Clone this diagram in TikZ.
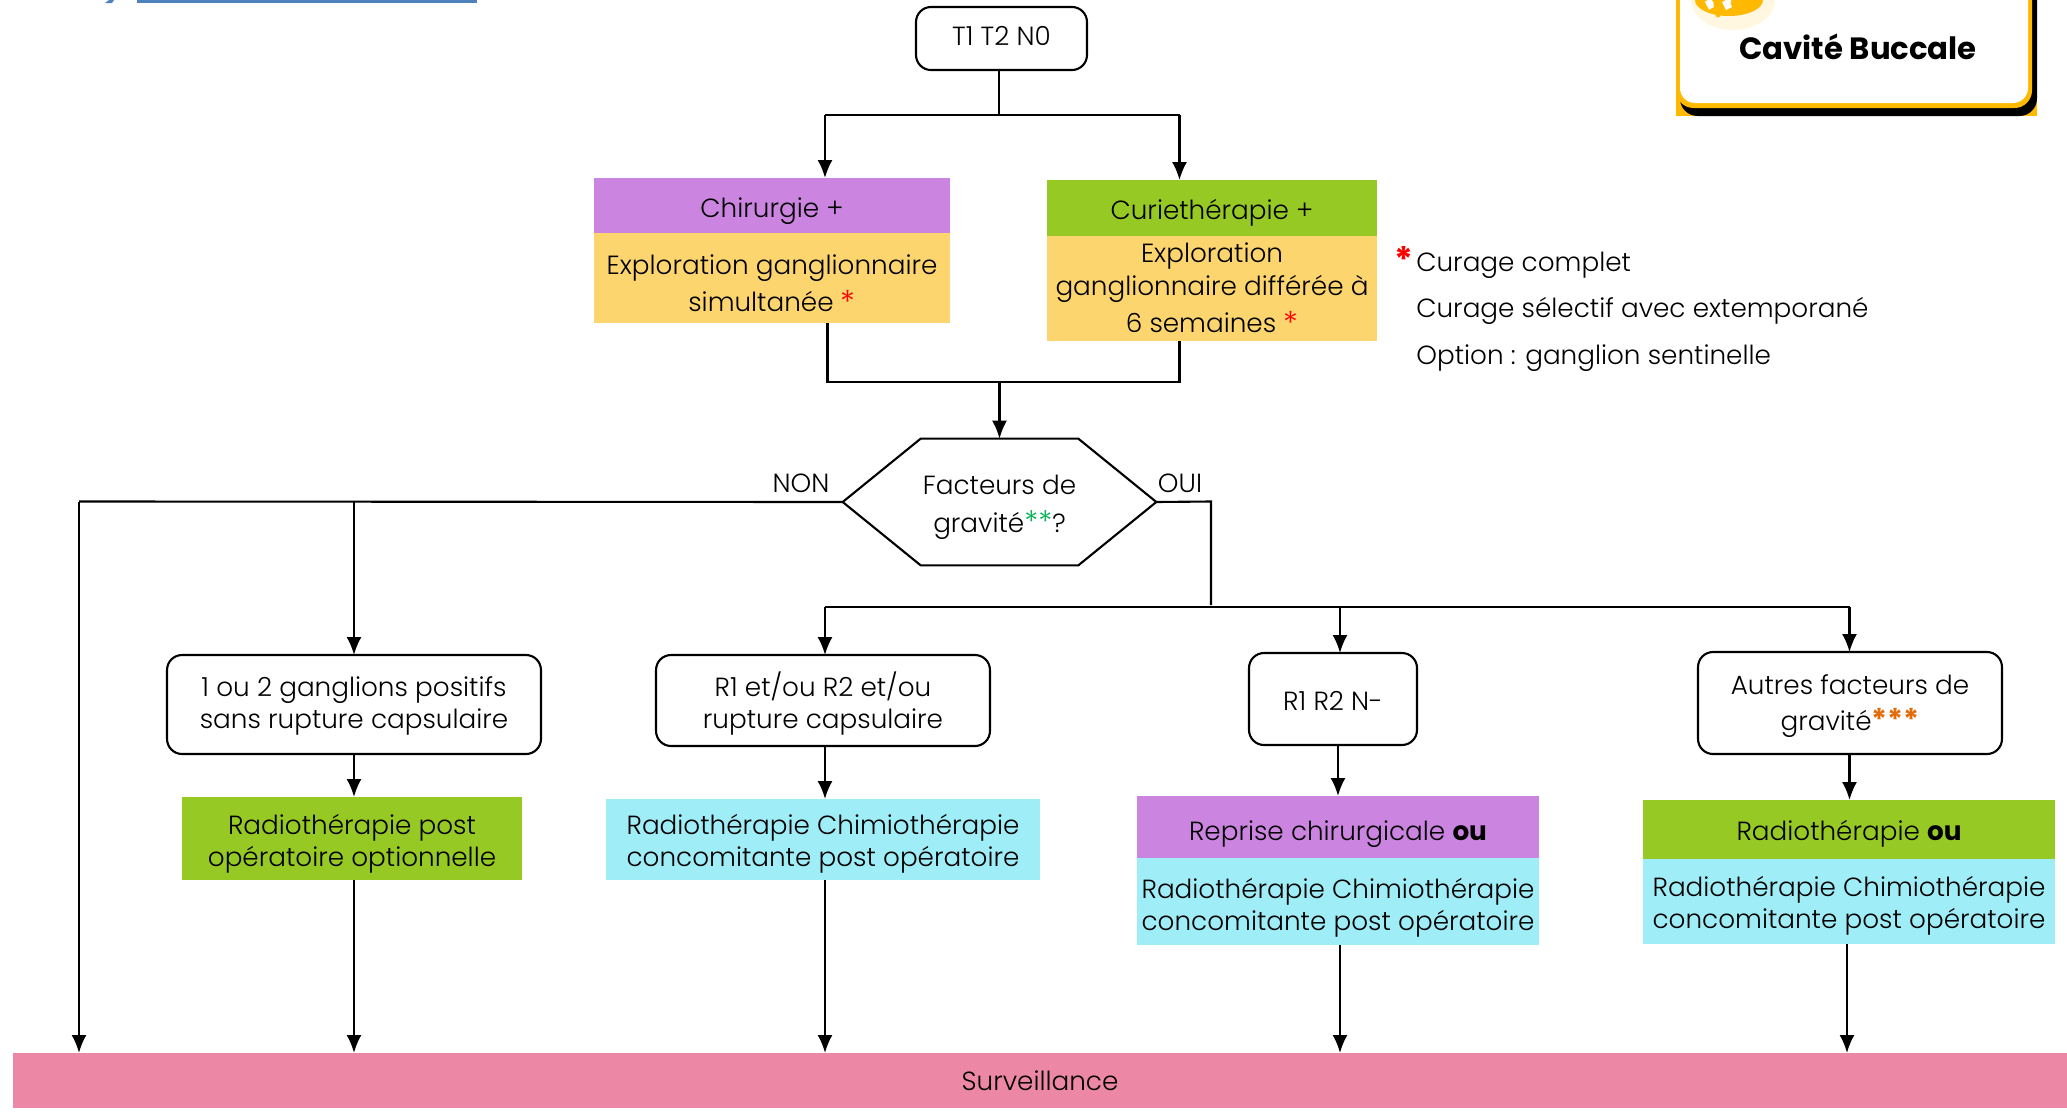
\documentclass[tikz,border=0pt]{standalone}
\usepackage{fontspec}
\setmainfont{Poppins}[UprightFont = * Light, BoldFont = * Bold]
\usetikzlibrary{positioning}
\usetikzlibrary{arrows.meta}

\definecolor{chirpurple}{HTML}{CB84E0}
\definecolor{curigreen}{HTML}{97C924}
\definecolor{exployellow}{HTML}{FCD56E}
\definecolor{radiocyan}{HTML}{9FEDF7}
\definecolor{survpink}{HTML}{EC87A5}
\definecolor{badgegold}{HTML}{FFB900}
\definecolor{titleblue}{HTML}{4F81BD}
\definecolor{stargreen}{HTML}{00B050}
\definecolor{starorange}{HTML}{E36C0A}

\newcommand{\redstar}{\textcolor{red}{\fontsize{18}{18}\selectfont\raisebox{-1pt}{*}}}

\tikzset{
	txt/.style = {font = \fontsize{14.95}{18.7}\selectfont, align = center, inner sep = 0pt, text = black},
	drop/.style = {text height = #1 * 0.04cm, text depth = 0pt},
	colbox/.style = {txt, minimum width = #1 * 0.02cm, outer sep = 0pt},
	roundbox/.style = {txt, draw = black, line width = 1.2pt, rounded corners = 0.3cm, outer sep = 0pt},
	link/.style = {black, line width = 1.2pt},
	arrow/.style = {link, -{Latex[length = 0.36cm, width = 0.3cm]}}
}

\begin{document}
\begin{tikzpicture}[x = 0.02cm, y = -0.02cm]
	\useasboundingbox (0, 0) rectangle (2067, 1112);

	% top left rule
	\fill [titleblue] (137, 0) rectangle (477, 3);
	\fill [titleblue] (105, 3) -- (109, 0) -- (114, 0) -- (112, 3) -- cycle;

	% badge
	\fill [badgegold] (1676, 0) rectangle (2037, 116);
	\fill [black, rounded corners = 0.35cm] (1680, -20) rectangle (2037, 116);
	\fill [badgegold, rounded corners = 0.35cm] (1676, -20) rectangle (2032, 108);
	\fill [white, rounded corners = 0.3cm] (1680, -20) rectangle (2028, 103);
	\fill [badgegold!12] (1733, 0) ellipse (42 and 30);
	\fill [badgegold] (1729, 0) ellipse (34 and 16);
	\draw [white, line width = 4pt] (1708, 0) -- (1712, 8);
	\draw [white, line width = 5pt] (1726, 0) -- (1730, 8);
	\draw [badgegold, line width = 2.8pt, line cap = round] (1716, 5) -- (1718, 15);
	\draw [badgegold, line width = 2.8pt, line cap = round] (1733, 3) -- (1737, 11);
	\node (badge) at (1858, 59) [anchor = base, font = \fontsize{17.5}{22}\selectfont\bfseries, inner sep = 0pt] {Cavité Buccale};

	% nodes
	\node (start) at (1001.5, 38.5) [roundbox, drop = 7.5, minimum width = 3.42cm, minimum height = 1.26cm] {T1 T2 N0};

	\node (chir) at (772, 205.5) [colbox = 356, drop = 12, minimum height = 1.1cm, fill = chirpurple] {Chirurgie +};
	\node (chirexpl) at (772, 278) [colbox = 356, drop = 34, minimum height = 1.8cm, fill = exployellow, font = \fontsize{14.95}{21.5}\selectfont] {Exploration ganglionnaire\\simultanée \redstar};
	\node (curi) at (1212, 208) [colbox = 330, drop = 12, minimum height = 1.12cm, fill = curigreen] {Curiethérapie +};
	\node (curiexpl) at (1212, 288.5) [colbox = 330, drop = 44, minimum height = 2.1cm, fill = exployellow] {Exploration\\ganglionnaire différée à\\[2.2pt]6 semaines \redstar};

	\node (note) at (1416, 271) [txt, anchor = base west] {Curage complet};
	\node (noteb) at (1416, 317) [txt, anchor = base west] {Curage sélectif avec extemporané};
	\node (notec) at (1416, 364) [txt, anchor = base west] {Option : ganglion sentinelle};
	\node (notestar) at (1404, 272) [txt, anchor = base, font = \fontsize{20}{22}\selectfont\bfseries, text = red] {*};

	\node (gravity) at (999.5, 502) [txt, drop = 31, minimum width = 6.26cm, minimum height = 2.52cm, font = \fontsize{14.95}{22}\selectfont] {Facteurs de\\gravité\textcolor{stargreen}{\fontsize{17}{18}\selectfont**}?};
	\node (non) at (801, 492) [txt, anchor = base] {NON};
	\node (oui) at (1180, 492) [txt, anchor = base] {OUI};

	\node (pos) at (354, 704.5) [roundbox, drop = 24.5, minimum width = 7.48cm, minimum height = 1.98cm] {1 ou 2 ganglions positifs\\sans rupture capsulaire};
	\node (rupt) at (823, 700.5) [roundbox, drop = 28.5, minimum width = 6.68cm, minimum height = 1.82cm] {R1 et/ou R2 et/ou\\rupture capsulaire};
	\node (neg) at (1333, 699) [roundbox, drop = 11.7, minimum width = 3.36cm, minimum height = 1.84cm] {R1 R2 N-};
	\node (other) at (1850, 703) [roundbox, drop = 27.7, minimum width = 6.08cm, minimum height = 2.04cm, font = \fontsize{14.95}{20.8}\selectfont] {Autres facteurs de\\gravité\textcolor{starorange}{\fontsize{17}{18}\selectfont\bfseries ***}};

	\node (radopt) at (352, 838.5) [colbox = 340, drop = 28.5, minimum height = 1.66cm, fill = curigreen] {Radiothérapie post\\opératoire optionnelle};
	\node (rct) at (823, 839.5) [colbox = 434, drop = 27.5, minimum height = 1.62cm, fill = radiocyan] {Radiothérapie Chimiothérapie\\concomitante post opératoire};
	\node (rep) at (1338, 827) [colbox = 402, drop = 13, minimum height = 1.24cm, fill = chirpurple] {Reprise chirurgicale \textbf{ou}};
	\node (reprct) at (1338, 901.5) [colbox = 402, drop = 29.5, minimum height = 1.74cm, fill = radiocyan] {Radiothérapie Chimiothérapie\\concomitante post opératoire};
	\node (rad) at (1849, 829.5) [colbox = 412, drop = 11, minimum height = 1.18cm, fill = curigreen] {Radiothérapie \textbf{ou}};
	\node (radrct) at (1849, 901.5) [colbox = 412, drop = 27.5, minimum height = 1.70cm, fill = radiocyan] {Radiothérapie Chimiothérapie\\concomitante post opératoire};

	\node (surv) at (1040, 1080.5) [colbox = 2054, drop = 9.5, minimum height = 1.10cm, fill = survpink] {Surveillance};

	% hexagon round the question
	\draw [link] (gravity.west) -- ([xshift = 1.56cm] gravity.north west) -- ([xshift = -1.56cm] gravity.north east) -- (gravity.east) -- ([xshift = -1.56cm] gravity.south east) -- ([xshift = 1.56cm] gravity.south west) -- cycle;

	% junctions
	\coordinate (topfork) at (999, 115);
	\coordinate (topleft) at (825, 115);
	\coordinate (topright) at (1179.5, 115);
	\coordinate (midleft) at (827.5, 382);
	\coordinate (midright) at (1179.5, 382);
	\coordinate (midfork) at (999.5, 382);
	\coordinate (nonend) at (79, 501.5);
	\coordinate (nonpos) at (354, 501.5);
	\coordinate (ouicorner) at (1211, 501.5);
	\coordinate (ouiend) at (1211, 605);
	\coordinate (forkleft) at (825, 607);
	\coordinate (forkneg) at (1340, 607);
	\coordinate (forkright) at (1849.5, 607);
	\coordinate (radrctend) at (1847, 944);

	% connectors
	\draw [link] (start.south -| topfork) -- (topfork);
	\draw [link] (topleft) -- (topright);
	\draw [arrow] (topleft) -- (chir.north -| topleft);
	\draw [arrow] (topright) -- (curi.north -| topright);
	\draw [link] (chirexpl.south -| midleft) -- (midleft) -- (midright) -- (curiexpl.south -| midright);
	\draw [arrow] (midfork) -- (gravity.north);

	\draw [link] (gravity.west) -- (nonend);
	\draw [arrow] (nonend) -- (surv.north -| nonend);
	\draw [arrow] (nonpos) -- (pos.north);
	\draw [link] (gravity.east) -- (ouicorner) -- (ouiend);
	\draw [link] (forkleft) -- (forkright);
	\draw [arrow] (forkleft) -- (rupt.north -| forkleft);
	\draw [arrow] (forkneg) -- (neg.north -| forkneg);
	\draw [arrow] (forkright) -- (other.north -| forkright);

	\draw [arrow] (pos.south) -- (radopt.north -| pos.south);
	\draw [arrow] (rupt.south -| forkleft) -- (rct.north -| forkleft);
	\draw [arrow] (neg.south -| rep.north) -- (rep.north);
	\draw [arrow] (other.south -| forkright) -- (rad.north -| forkright);

	\draw [arrow] (radopt.south -| pos.south) -- (surv.north -| pos.south);
	\draw [arrow] (rct.south -| forkleft) -- (surv.north -| forkleft);
	\draw [arrow] (reprct.south -| forkneg) -- (surv.north -| forkneg);
	\draw [arrow] (radrctend) -- (surv.north -| radrctend);
\end{tikzpicture}
\end{document}
